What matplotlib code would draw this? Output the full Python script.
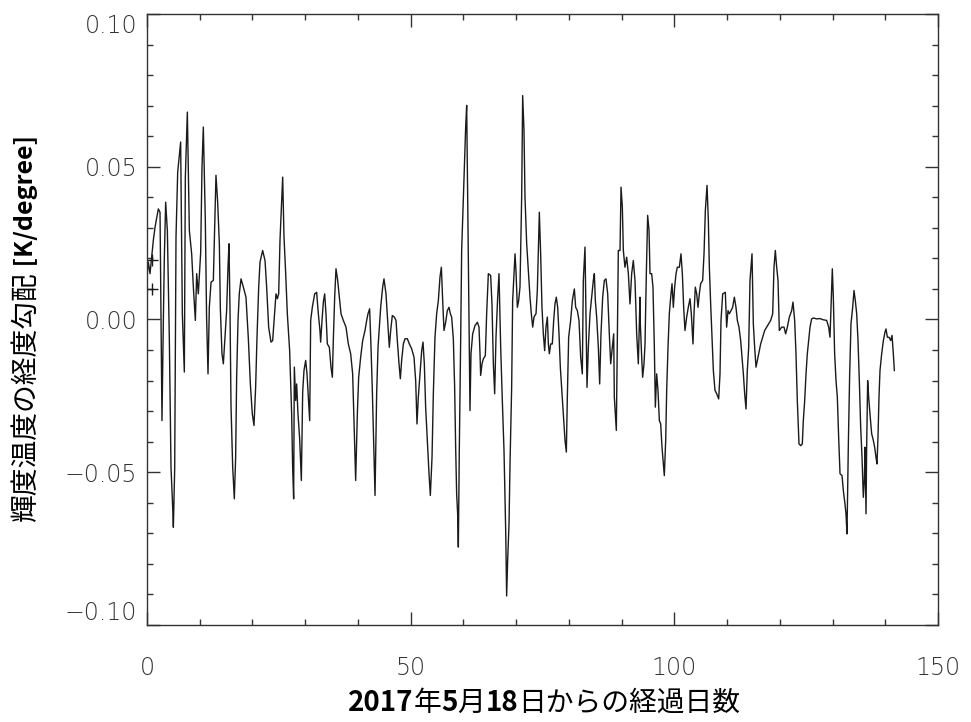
import matplotlib
matplotlib.use("Agg")
import matplotlib.pyplot as plt
from matplotlib.offsetbox import TextArea, HPacker, AnnotationBbox
from matplotlib.ticker import MultipleLocator, FixedLocator

# elapsed days since 2017-05-18 and longitudinal gradient of brightness temperature [K/degree]
day_1 = [0.0, 0.25, 0.57, 1.2, 1.52, 2.15, 2.47, 2.65, 2.84, 3.1, 3.29, 3.54, 3.86, 4.24, 4.55, 4.87, 5.0, 5.25,
         5.5, 5.82, 6.38, 6.7, 7.08, 7.27, 7.65, 8.03, 8.47, 8.79, 9.17, 9.42, 9.73, 10.18, 10.43, 10.68, 11.06,
         11.3, 11.57, 11.82, 12.14, 12.58, 12.83, 13.08, 13.4, 13.72, 13.91, 14.22, 14.48, 14.79, 15.1, 15.36,
         15.55, 15.74, 15.93, 16.25, 16.56, 16.81, 17.0, 17.26, 17.5, 17.83, 18.27, 18.77, 19.22, 19.6, 19.97,
         20.29, 20.6, 20.86, 21.18, 21.43, 21.93, 22.38, 22.69, 23.07, 23.51, 23.83, 24.15, 24.46, 24.72, 24.97,
         25.22, 25.54, 25.73, 25.98, 26.3, 26.61, 27.05, 27.43, 27.62, 27.81, 27.94, 28.19, 28.38, 28.63, 28.95,
         29.27, 29.52, 29.77, 30.09, 30.34, 30.66, 30.85, 31.04, 31.35, 31.8, 32.17, 32.49, 32.8]
grad_1 = [0.014, 0.0188, 0.015, 0.0259, 0.0302, 0.0362, 0.0351, 0.0019, -0.0331, -0.0003, 0.0204, 0.0384, 0.0291,
          -0.0069, -0.0484, -0.0614, -0.068, -0.0489, 0.027, 0.0482, 0.0581, 0.0019, -0.0172, 0.0466, 0.0679,
          0.0291, 0.0215, 0.0106, -0.0003, 0.015, 0.0084, 0.022, 0.0499, 0.063, 0.0324, 0.0008, -0.0178, 0.004,
          0.0122, 0.0128, 0.0302, 0.0472, 0.0384, 0.0248, 0.0035, -0.0112, -0.0145, -0.0058, 0.0029, 0.0171,
          0.0248, 0.0029, -0.0282, -0.0484, -0.0587, -0.0451, -0.0189, -0.0003, 0.0084, 0.0133, 0.0106, 0.0073,
          -0.0063, -0.0211, -0.0309, -0.0347, -0.0222, -0.0058, 0.0106, 0.0188, 0.0226, 0.0193, 0.0106, -0.0025,
          -0.0074, -0.0069, 0.0008, 0.0084, 0.0068, 0.0084, 0.0259, 0.0384, 0.0466, 0.027, 0.015, 0.0019, -0.0102,
          -0.0309, -0.0484, -0.0587, -0.0156, -0.0265, -0.0211, -0.0309, -0.0391, -0.0527, -0.0238, -0.0167,
          -0.0134, -0.0178, -0.0276, -0.0331, -0.0003, 0.004, 0.0084, 0.0089, 0.0019, -0.0036]

day_2 = [32.93, 33.19, 33.44, 33.69, 33.94, 34.2, 34.58, 34.89, 35.15, 35.33, 35.59, 35.84, 36.16, 36.47, 36.79,
         37.23, 37.74, 38.18, 38.62, 39.0, 39.32, 39.57, 39.89, 40.14, 40.52, 40.9, 41.34, 41.66, 41.91, 42.22,
         42.48, 42.73, 43.05, 43.24, 43.55, 43.81, 44.06, 44.31, 44.69, 44.94, 45.32, 45.64, 45.95, 46.21, 46.52,
         46.9, 47.22, 47.47, 47.79, 48.04, 48.29, 48.61, 48.93, 49.37, 49.75, 50.19, 50.63, 50.95, 51.2, 51.45,
         51.77, 52.09, 52.34, 52.59, 52.84, 53.16, 53.48, 53.73, 54.05, 54.3, 54.61, 54.93, 55.25, 55.56, 55.82,
         56.07, 56.32, 56.64, 56.95, 57.27, 57.52, 57.77, 58.09, 58.34, 58.53, 58.72, 58.91, 59.04, 59.23, 59.48,
         59.67, 59.92, 60.18, 60.43, 60.62, 60.94, 61.13, 61.25, 61.44, 61.76, 62.2, 62.65, 62.96, 63.15]
grad_2 = [-0.0074, -0.0003, 0.0057, 0.0084, 0.0019, -0.008, -0.0091, -0.0156, -0.0189, -0.0069, 0.0073, 0.0166,
          0.0128, 0.0073, 0.0019, -0.0003, -0.0025, -0.008, -0.0112, -0.0178, -0.0374, -0.0527, -0.0309, -0.0189,
          -0.0123, -0.0069, -0.0036, -0.0003, 0.0019, 0.0035, -0.0091, -0.0232, -0.0451, -0.0576, -0.0243,
          -0.0091, -0.0025, 0.004, 0.0106, 0.0133, 0.0084, -0.0003, -0.0091, -0.0036, 0.0013, 0.0008, -0.0003,
          -0.0069, -0.0145, -0.0194, -0.0134, -0.008, -0.0063, -0.0063, -0.008, -0.0096, -0.0123, -0.02, -0.0342,
          -0.0254, -0.0178, -0.0102, -0.0074, -0.0145, -0.0287, -0.0396, -0.0505, -0.0576, -0.0451, -0.0243,
          -0.0058, 0.0019, 0.0062, 0.0139, 0.0171, 0.0062, -0.0036, -0.0009, 0.0029, 0.004, 0.0019, 0.0008,
          -0.0063, -0.0222, -0.0418, -0.0571, -0.0636, -0.0745, -0.0418, -0.0069, 0.0226, 0.0357, 0.0493, 0.063,
          0.0701, 0.0193, -0.0091, -0.0298, -0.0112, -0.0047, -0.002, -0.0009, -0.0025, -0.0112]

day_3 = [63.27, 63.53, 63.78, 64.16, 64.41, 64.73, 65.17, 65.42, 65.68, 65.93, 66.18, 66.5, 66.75, 67.07, 67.38,
         67.7, 68.02, 68.2, 68.39, 68.65, 68.84, 69.15, 69.34, 69.6, 69.79, 69.97, 70.23, 70.48, 70.73, 71.05,
         71.24, 71.49, 71.68, 72.0, 72.31, 72.63, 72.88, 73.14, 73.39, 73.77, 74.02, 74.27, 74.4, 74.65, 74.9,
         75.16, 75.41, 75.66, 75.92, 76.11, 76.3, 76.55, 76.86, 77.12, 77.37, 77.62, 77.88, 78.13, 78.38, 78.7,
         78.95, 79.27, 79.52, 79.71, 79.96, 80.34, 80.66, 81.04, 81.29, 81.61, 81.92, 82.24, 82.55, 82.74, 83.06,
         83.25, 83.44, 83.69, 84.01, 84.32, 84.64, 84.83, 85.02, 85.27, 85.59, 85.84, 86.09, 86.41, 86.73, 87.04,
         87.36, 87.67, 87.93, 88.24, 88.5, 88.62, 88.81, 89.0, 89.19, 89.38, 89.7, 89.89, 90.14, 90.33, 90.64,
         90.96, 91.28, 91.59, 91.91, 92.22, 92.54, 92.86, 93.17, 93.49]
grad_3 = [-0.0183, -0.0145, -0.0129, -0.0118, 0.0019, 0.015, 0.0144, 0.0051, -0.0145, -0.0243, -0.0058, 0.0073,
          0.015, -0.0091, -0.0265, -0.0429, -0.0691, -0.0905, -0.0789, -0.0669, -0.0473, -0.0222, 0.0062, 0.015,
          0.0215, 0.016, 0.004, 0.0062, 0.0106, 0.0401, 0.0733, 0.0619, 0.0401, 0.0248, 0.016, 0.0073, 0.0019,
          -0.0025, 0.0008, 0.0019, 0.0095, 0.0259, 0.0351, 0.0215, 0.004, -0.0047, -0.0102, -0.0025, 0.0008,
          -0.008, -0.0112, -0.008, -0.008, -0.0003, 0.0051, 0.0073, 0.004, -0.0047, -0.0156, -0.0243, -0.0309,
          -0.0396, -0.0434, -0.0254, -0.0058, -0.0003, 0.0062, 0.01, 0.004, 0.0029, -0.0003, -0.0123, -0.0178,
          0.0128, 0.0237, 0.0019, -0.0222, -0.0091, 0.0019, 0.0073, 0.0128, 0.015, 0.0062, 0.0008, -0.0091,
          -0.0211, -0.0047, 0.0073, 0.0128, 0.0133, 0.0084, -0.0047, -0.0145, -0.0091, -0.0047, -0.0254, -0.0309,
          -0.0363, -0.0069, 0.0226, 0.0226, 0.0433, 0.0368, 0.0226, 0.0171, 0.0204, 0.015, 0.0051, 0.015, 0.0193,
          0.0128, -0.0047, -0.0145, 0.0073]

day_4 = [93.55, 93.81, 93.99, 94.25, 94.44, 94.69, 94.94, 95.2, 95.39, 95.7, 95.95, 96.21, 96.4, 96.65, 96.9,
         97.16, 97.41, 97.66, 97.91, 98.1, 98.36, 98.55, 98.8, 99.05, 99.31, 99.56, 99.81, 100.06, 100.32, 100.57,
         100.95, 101.26, 101.52, 101.77, 102.02, 102.34, 102.65, 102.97, 103.22, 103.54, 103.73, 103.98, 104.24,
         104.49, 104.74, 104.99, 105.37, 105.63, 105.88, 106.2, 106.45, 106.64, 106.89, 107.14, 107.4, 107.71,
         108.03, 108.41, 108.66, 108.85, 109.17, 109.67, 109.92, 110.18, 110.43, 110.75, 111.06, 111.38, 111.69,
         111.95, 112.26, 112.58, 112.83, 113.09, 113.34, 113.59, 113.84, 114.1, 114.35, 114.73, 114.98, 115.23,
         115.49, 115.74, 116.12, 116.37, 116.75, 117.13, 117.51, 117.89, 118.27, 118.65, 118.9, 119.15, 119.41,
         119.66, 119.91, 120.35, 120.8, 121.11, 121.43, 121.81, 122.25, 122.5, 122.82, 123.07, 123.32, 123.64]
grad_4 = [-0.0014, -0.0123, -0.0189, -0.0145, -0.008, 0.015, 0.0341, 0.0291, 0.015, 0.015, 0.0106, -0.0091,
          -0.0287, -0.0178, -0.0232, -0.0331, -0.0342, -0.0418, -0.0473, -0.0511, -0.0396, -0.0232, -0.0091,
          0.0019, 0.0073, 0.0117, 0.004, 0.0106, 0.015, 0.0171, 0.0171, 0.0215, 0.015, 0.004, -0.0036, 0.0008,
          0.004, 0.0068, 0.0019, -0.008, 0.0019, 0.0106, 0.0084, 0.004, 0.0084, 0.0117, 0.0128, 0.0215, 0.0357,
          0.0439, 0.0324, 0.0171, 0.0051, -0.0058, -0.0167, -0.0232, -0.0243, -0.026, -0.0178, -0.0003, 0.0084,
          0.0089, -0.0025, 0.0029, 0.0019, 0.0029, 0.004, 0.0073, 0.004, -0.0003, -0.0025, -0.0069, -0.0123,
          -0.0178, -0.0243, -0.0293, -0.0167, -0.0091, 0.0128, 0.0215, -0.0014, -0.0091, -0.0156, -0.0134,
          -0.0102, -0.008, -0.0058, -0.0036, -0.0025, -0.0014, -0.0003, 0.0019, 0.0171, 0.0226, 0.0171, 0.0128,
          -0.0036, -0.0025, -0.0025, -0.0047, -0.0025, 0.0008, 0.0029, 0.0057, -0.0003, -0.0112, -0.0265, -0.0407]

day_5 = [123.96, 124.27, 124.46, 124.72, 124.97, 125.22, 125.47, 125.73, 126.04, 126.36, 126.99, 127.62, 128.26,
         128.89, 129.27, 129.52, 129.71, 129.96, 130.15, 130.4, 130.66, 130.91, 131.16, 131.42, 131.8, 132.05,
         132.36, 132.55, 132.74, 133.0, 133.25, 133.5, 133.82, 134.07, 134.32, 134.58, 134.83, 135.08, 135.34,
         135.59, 135.84, 136.03, 136.16, 136.35, 136.47, 136.66, 136.85, 137.1, 137.42, 137.74, 137.99, 138.24,
         138.43, 138.62, 138.81, 139.0, 139.32, 139.64, 139.95, 140.14, 140.4, 140.71, 141.03, 141.28, 141.53,
         141.72]
grad_5 = [-0.0413, -0.0407, -0.0331, -0.0265, -0.0178, -0.0112, -0.0069, -0.0025, 0.0002, 0.0005, 0.0002, 0.0003,
          -0.0001, -0.0003, -0.0025, -0.0058, 0.004, 0.0166, 0.0073, -0.0112, -0.02, -0.0254, -0.0385, -0.0505,
          -0.0511, -0.056, -0.0604, -0.0636, -0.0702, -0.0407, -0.0178, -0.0014, 0.004, 0.0095, 0.0062, 0.0019,
          -0.0069, -0.02, -0.0353, -0.0451, -0.0582, -0.0527, -0.0418, -0.0636, -0.0418, -0.02, -0.0254, -0.0309,
          -0.0374, -0.0396, -0.0418, -0.0451, -0.0473, -0.0385, -0.0254, -0.0167, -0.0112, -0.0069, -0.0041,
          -0.0031, -0.0058, -0.0058, -0.0069, -0.0052, -0.0112, -0.0167]

# the two "+" marks near the start
mark_day = [0.9, 0.9]
mark_grad = [0.0196, 0.0101]

x_ticks = [0, 50, 100, 150]
y_ticks = [-0.10, -0.05, 0.00, 0.05, 0.10]
y_tick_labels = ["\u22120.10", "\u22120.05", "0.00", "0.05", "0.10"]

days = day_1 + day_2 + day_3 + day_4 + day_5
grad = grad_1 + grad_2 + grad_3 + grad_4 + grad_5

plt.rcParams["font.family"] = ["Noto Sans CJK JP", "DejaVu Sans"]

fig = plt.figure(figsize=(9.71, 7.22), dpi=100)
ax = fig.add_axes([147 / 971, 1 - 625 / 722, (938 - 147) / 971, (625 - 14) / 722])

ax.plot(days, grad, color="#1a1a1a", linewidth=1.0)
ax.plot(mark_day, mark_grad, linestyle="none", marker="+", color="#1a1a1a", markersize=8, markeredgewidth=1.0)

ax.set_xlim(0, 150)
ax.set_ylim(-0.10, 0.10)
ax.xaxis.set_major_locator(FixedLocator(x_ticks))
ax.xaxis.set_minor_locator(MultipleLocator(10))
ax.yaxis.set_major_locator(FixedLocator(y_ticks))
ax.yaxis.set_minor_locator(MultipleLocator(0.01))
ax.set_yticklabels(y_tick_labels)
ax.set_xticklabels([str(v) for v in x_ticks])

ax.tick_params(which="both", direction="in", top=True, right=True, color="#333333", width=1.0)
ax.tick_params(which="major", length=9.5)
ax.tick_params(which="minor", length=4.3)
ax.tick_params(axis="x", which="major", pad=22, labelsize=17, labelcolor="#333333")
ax.tick_params(axis="y", which="major", pad=7, labelsize=17, labelcolor="#333333")
for lab in ax.get_xticklabels() + ax.get_yticklabels():
    lab.set_family("DejaVu Sans")
    lab.set_fontweight("light")
ylabs = ax.get_yticklabels()
ylabs[0].set_va("bottom")
ylabs[-1].set_va("top")

for sp in ax.spines.values():
    sp.set_color("#333333")
    sp.set_linewidth(1.0)

# x label: bold digits, regular kana/kanji
parts = [("2017", "bold"), ("年", "normal"), ("5", "bold"), ("月", "normal"), ("18", "bold"),
         ("日からの経過日数", "normal")]
boxes = [TextArea(s, textprops=dict(fontsize=20, fontweight=w, color="black",
                                      family=["Noto Sans CJK JP", "DejaVu Sans"])) for s, w in parts]
pack = HPacker(children=boxes, align="baseline", pad=0, sep=0)
ab = AnnotationBbox(pack, (544 / 971, 1 - 703 / 722), xycoords="figure fraction",
                    box_alignment=(0.5, 0.5), frameon=False)
fig.add_artist(ab)

# y label: regular Japanese, bold unit
t1 = fig.text(26 / 971, 1 - 397 / 722, "輝度温度の経度勾配", rotation=90, fontsize=20,
              ha="center", va="center", color="black")
ax.annotate(" [K/degree]", xy=(0.5, 1.0), xycoords=t1, rotation=90, fontsize=18, fontweight="bold",
            ha="center", va="bottom", color="black", annotation_clip=False)

fig.savefig("out.png", dpi=100)
